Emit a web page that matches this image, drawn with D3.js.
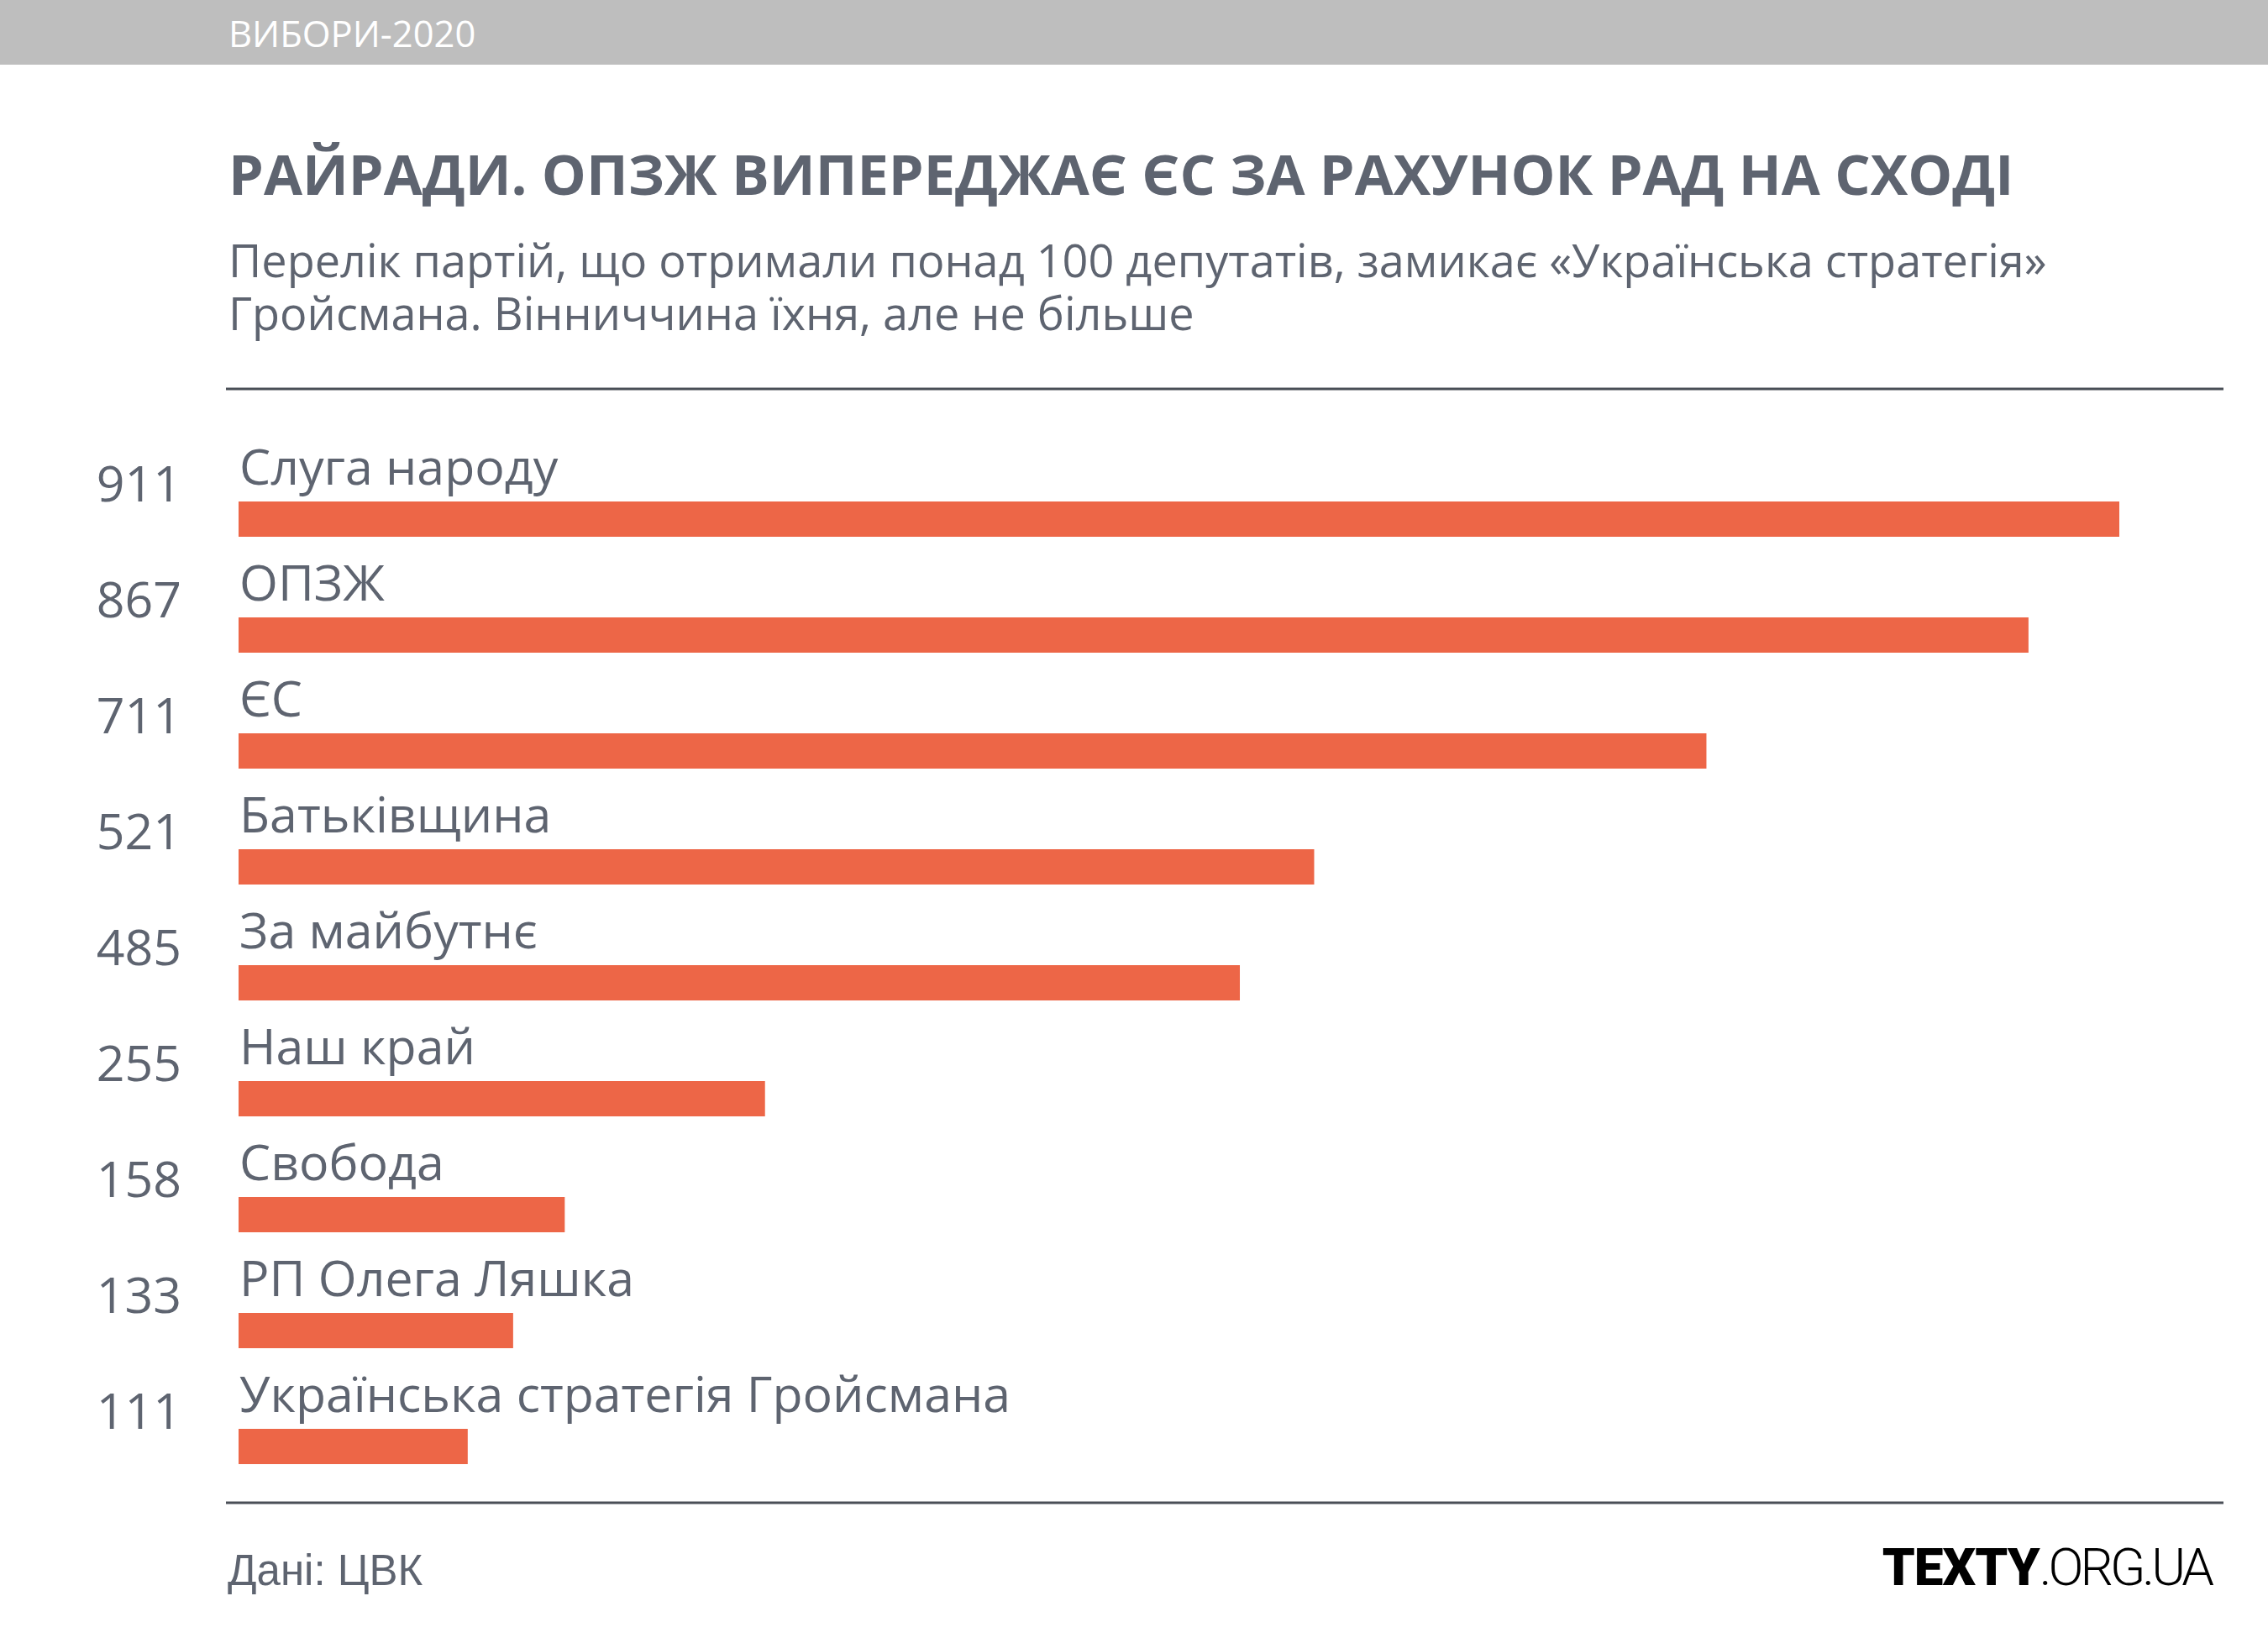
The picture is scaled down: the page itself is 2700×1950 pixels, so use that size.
<!DOCTYPE html>
<html>
<head>
<meta charset="utf-8">
<script src="https://cdn.jsdelivr.net/npm/d3@7"></script>
<style>
    body { margin: 0; background: #fff; }
    svg { display: block; }
</style>
</head>
<body>
<svg id="Target" width="2700" height="1950"></svg>
<script>
const parties = [
    "Слуга народу",
    "ОПЗЖ",
    "ЄС",
    "Батьківщина",
    "За майбутнє",
    "Наш край",
    "Свобода",
    "РП Олега Ляшка",
    "Українська стратегія Гройсмана"
];
const seats = [911, 867, 711, 521, 485, 255, 158, 133, 111];

const kicker = "ВИБОРИ-2020";
const title = "РАЙРАДИ. ОПЗЖ ВИПЕРЕДЖАЄ ЄС ЗА РАХУНОК РАД НА СХОДІ";
const subtitleLines = [
    "Перелік партій, що отримали понад 100 депутатів, замикає «Українська стратегія»",
    "Гройсмана. Вінниччина їхня, але не більше"
];
const source = "Дані: ЦВК";

const textColor = "#5e6470";
const barColor = "#ed6647";
const font = "'Open Sans', sans-serif";

const data = parties.map((p, i) => ({ party: p, value: seats[i] }));

const svg = d3.select("#Target");

// header band
svg.append("rect")
    .attr("x", 0).attr("y", 0)
    .attr("width", 2700).attr("height", 77)
    .attr("fill", "#bebebe");

svg.append("text")
    .attr("x", 272).attr("y", 56)
    .attr("font-family", font)
    .attr("font-size", 43.5)
    .attr("fill", "#fff")
    .text(kicker);

// title + subtitle
svg.append("text")
    .attr("x", 272).attr("y", 232)
    .attr("font-family", font)
    .attr("font-weight", 700)
    .attr("font-size", 66.7)
    .attr("fill", textColor)
    .text(title);

svg.selectAll("text.subtitle")
    .data(subtitleLines)
    .enter()
    .append("text")
    .attr("class", "subtitle")
    .attr("x", 272)
    .attr("y", (d, i) => 330 + i * 63)
    .attr("font-family", font)
    .attr("font-size", 54)
    .attr("fill", textColor)
    .text(d => d);

// rules
[463, 1789].forEach(y => {
    svg.append("line")
        .attr("x1", 269).attr("x2", 2647)
        .attr("y1", y).attr("y2", y)
        .attr("stroke", "#4a4f57")
        .attr("stroke-width", 3);
});

// scales
const x = d3.scaleLinear()
    .domain([0, d3.max(seats)])
    .range([284, 2523]);

const y = d3.scaleBand()
    .domain(parties)
    .range([597, 1743])
    .paddingInner(96 / 138)
    .paddingOuter(0);

const rows = svg.selectAll("g.row")
    .data(data)
    .enter()
    .append("g")
    .attr("class", "row");

rows.append("rect")
    .attr("x", x(0))
    .attr("y", d => y(d.party))
    .attr("width", d => x(d.value) - x(0))
    .attr("height", y.bandwidth())
    .attr("fill", barColor);

rows.append("text")
    .attr("x", x(0) + 1)
    .attr("y", d => y(d.party) - 20)
    .attr("font-family", font)
    .attr("font-size", 59)
    .attr("fill", textColor)
    .text(d => d.party);

rows.append("text")
    .attr("x", 216)
    .attr("y", d => y(d.party))
    .attr("text-anchor", "end")
    .attr("font-family", font)
    .attr("font-size", 59)
    .attr("fill", textColor)
    .text(d => d.value);

// footer
svg.append("text")
    .attr("x", 271).attr("y", 1887)
    .attr("font-family", "'Liberation Sans', Arial, sans-serif")
    .attr("font-size", 51)
    .attr("fill", textColor)
    .text(source);

const logo = svg.append("text")
    .attr("x", 2632).attr("y", 1887)
    .attr("text-anchor", "end")
    .attr("font-family", "Roboto, sans-serif")
    .attr("font-size", 62)
    .attr("fill", "#000");
logo.append("tspan").attr("font-weight", 900).attr("letter-spacing", -1).text("TEXTY");
logo.append("tspan").attr("font-weight", 300).attr("letter-spacing", -4).text(".ORG.UA");
</script>
</body>
</html>
